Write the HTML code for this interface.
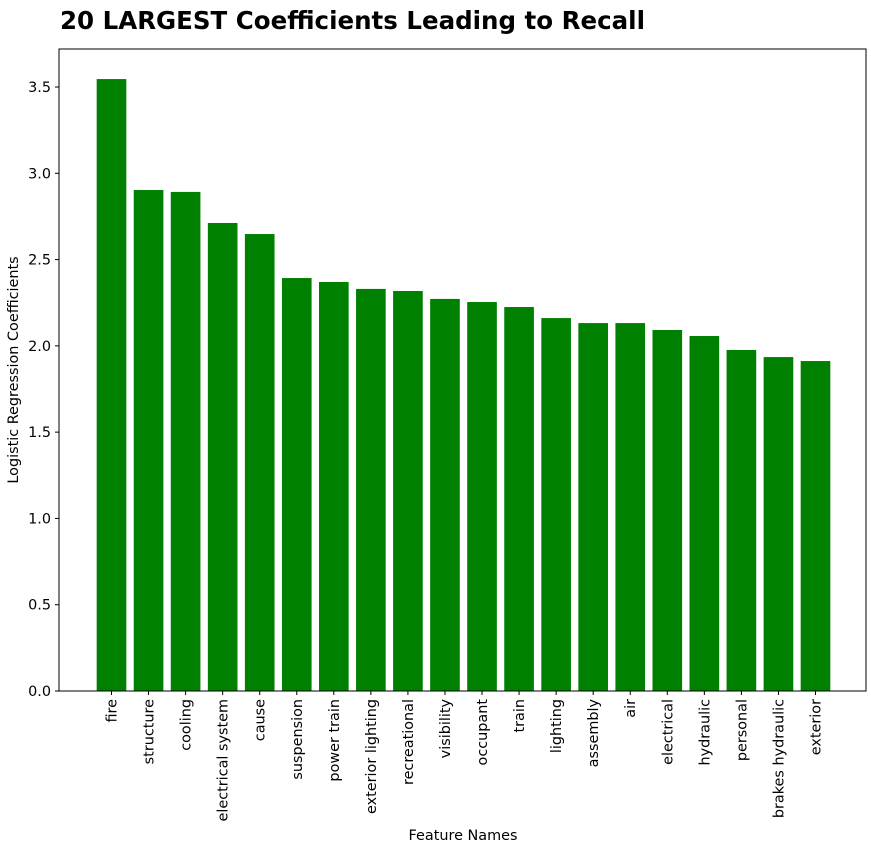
<!DOCTYPE html>
<html><head><meta charset="utf-8"><style>
body{margin:0;background:#fff;font-family:"DejaVu Sans","Liberation Sans",sans-serif;}
</style></head><body>
<svg id="chart" width="871" height="852" xmlns="http://www.w3.org/2000/svg" font-family="DejaVu Sans, Liberation Sans, sans-serif">
<text x="60" y="29" font-size="24.5" font-weight="bold" fill="#000">20 LARGEST Coefficients Leading to Recall</text>
<g id="plot"></g>
<rect x="59" y="49" width="807" height="642" fill="none" stroke="#000" stroke-width="1"/>
<text x="463" y="840" font-size="14.4" text-anchor="middle">Feature Names</text>
<text transform="translate(18,370) rotate(-90)" font-size="14.4" text-anchor="middle">Logistic Regression Coefficients</text>
</svg>
<script>
const categories=["fire","structure","cooling","electrical system","cause","suspension","power train","exterior lighting","recreational","visibility","occupant","train","lighting","assembly","air","electrical","hydraulic","personal","brakes hydraulic","exterior"];
const values=[3.546,2.903,2.892,2.712,2.648,2.393,2.370,2.330,2.318,2.272,2.254,2.225,2.161,2.132,2.132,2.092,2.057,1.976,1.935,1.912];
const yTicks=[0,0.5,1.0,1.5,2.0,2.5,3.0,3.5];
const yTickLabels=["0.0","0.5","1.0","1.5","2.0","2.5","3.0","3.5"];
const NS="http://www.w3.org/2000/svg";
const L=59,R=866,T=49,B=691;
const n=categories.length;
const xmin=-0.4-0.05*(n-0.2),xmax=n-0.6+0.05*(n-0.2);
const x=i=>L+1+(i-xmin)/(xmax-xmin)*(R-L);
const y=v=>B-v*(604/3.5);
const g=document.getElementById('plot');
function el(t,a){const e=document.createElementNS(NS,t);for(const k in a)e.setAttribute(k,a[k]);return e;}
const bw=0.8*(R-L)/(xmax-xmin);
values.forEach((v,i)=>{
 const r=el('rect',{x:x(i)-bw/2,y:y(v),width:bw,height:B-y(v),fill:'#008000'});
 
 
 g.appendChild(r);
 const tk=el('line',{x1:x(i),x2:x(i),y1:B,y2:B+4,stroke:'#000'});
 
 
 g.appendChild(tk);
 const t=el('text',{transform:`translate(${x(i)+5},${B+8}) rotate(-90)`,'font-size':14.4,'text-anchor':'end'});
 t.textContent=categories[i];
 
 
 g.appendChild(t);
});
yTicks.forEach((v,i)=>{
 const tk=el('line',{x1:L-4,x2:L,y1:y(v),y2:y(v),stroke:'#000'});
 
 
 g.appendChild(tk);
 const t=el('text',{x:L-8,y:y(v)+5,'font-size':14.4,'text-anchor':'end'});
 t.textContent=yTickLabels[i];
 
 
 g.appendChild(t);
});
</script>
</body></html>
